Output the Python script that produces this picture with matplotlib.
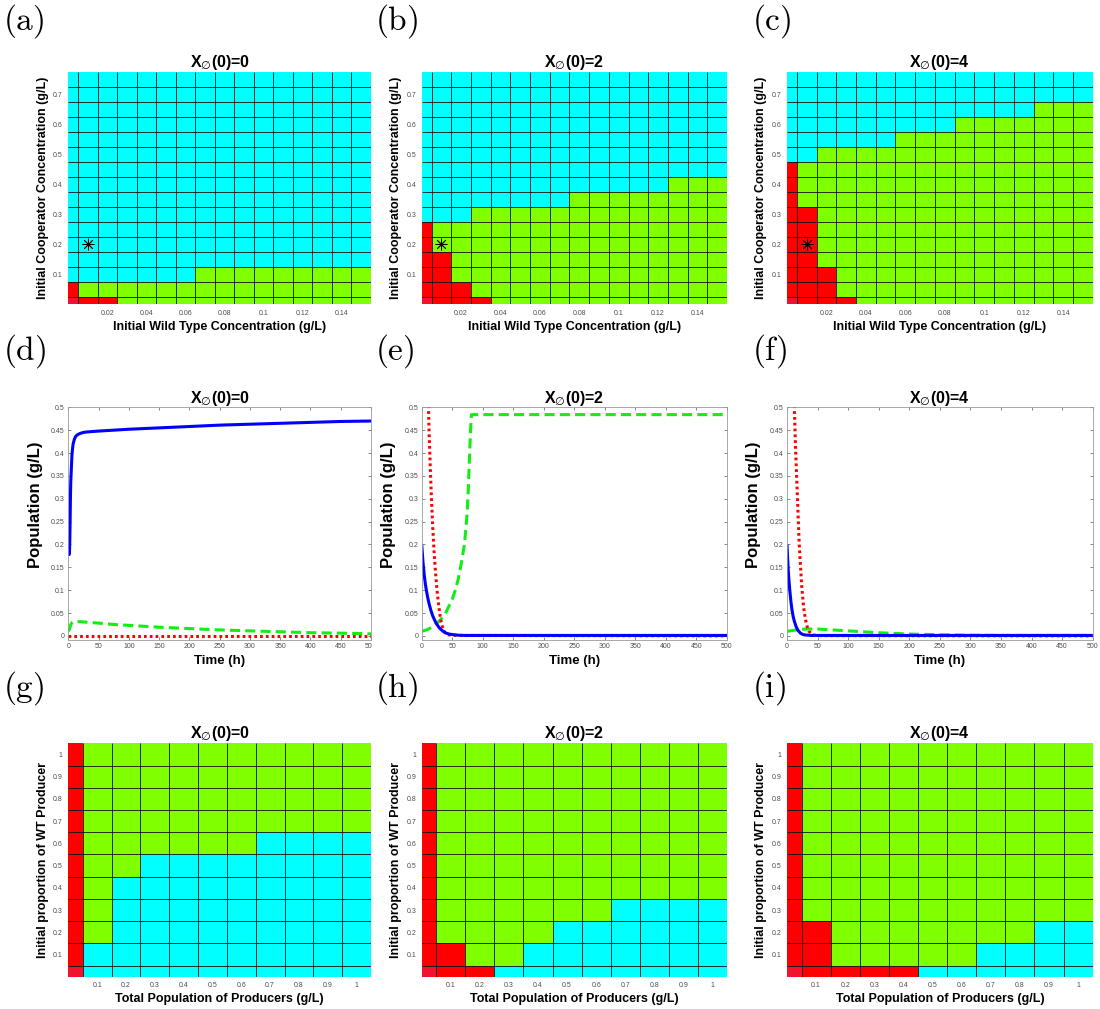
import numpy as np
import matplotlib.pyplot as plt
from matplotlib.colors import ListedColormap, BoundaryNorm
from matplotlib.transforms import Bbox, TransformedBbox

plt.rcParams['font.family'] = ['Liberation Sans', 'DejaVu Sans']

# outcome codes: 0 = origin cell, 1 = extinction (red), 2 = WT wins (green), 3 = cooperator wins (cyan)
region_cmap = ListedColormap(['#f2122e', '#ff0000', '#80ff00', '#00ffff'])
region_norm = BoundaryNorm([-0.5, 0.5, 1.5, 2.5, 3.5], 4)

# ---- top row: initial wild type vs initial cooperator ----
wt_conc = [0.00, 0.01, 0.02, 0.03, 0.04, 0.05, 0.06, 0.07,
           0.08, 0.09, 0.10, 0.11, 0.12, 0.13, 0.14, 0.15]
coop_conc = [0.00, 0.05, 0.10, 0.15, 0.20, 0.25, 0.30, 0.35,
             0.40, 0.45, 0.50, 0.55, 0.60, 0.65, 0.70, 0.75]
wt_ticks = [0.02, 0.04, 0.06, 0.08, 0.1, 0.12, 0.14]
coop_ticks = [0.1, 0.2, 0.3, 0.4, 0.5, 0.6, 0.7]

# rows listed from the top (coop = 0.75) down to coop = 0
grid_a = ["3333333333333333"] * 13 + [
    "3333333222222222",
    "1222222222222222",
    "0112222222222222",
]
grid_b = ["3333333333333333"] * 7 + [
    "3333333333333222",
    "3333333322222222",
    "3332222222222222",
    "1222222222222222",
    "1222222222222222",
    "1122222222222222",
    "1122222222222222",
    "1112222222222222",
    "0111222222222222",
]
grid_c = [
    "3333333333333333",
    "3333333333333333",
    "3333333333333222",
    "3333333332222222",
    "3333332222222222",
    "3322222222222222",
    "1222222222222222",
    "1222222222222222",
    "1222222222222222",
    "1122222222222222",
    "1122222222222222",
    "1122222222222222",
    "1122222222222222",
    "1112222222222222",
    "1112222222222222",
    "0111222222222222",
]
star_wt, star_coop = 0.01, 0.2

# ---- bottom row: total producers vs WT proportion ----
total_prod = [0.0, 0.1, 0.2, 0.3, 0.4, 0.5, 0.6, 0.7, 0.8, 0.9, 1.0]
wt_frac = [0.0, 0.1, 0.2, 0.3, 0.4, 0.5, 0.6, 0.7, 0.8, 0.9, 1.0]
prod_ticks = [0.1, 0.2, 0.3, 0.4, 0.5, 0.6, 0.7, 0.8, 0.9, 1]

grid_g = ["12222222222"] * 4 + [
    "12222223333",
    "12233333333",
    "12333333333",
    "12333333333",
    "12333333333",
    "13333333333",
    "03333333333",
]
grid_h = ["12222222222"] * 7 + [
    "12222223333",
    "12222333333",
    "11223333333",
    "01133333333",
]
grid_i = ["12222222222"] * 8 + [
    "11222222233",
    "11222223333",
    "01111333333",
]

# ---- middle row: time courses (blue = cooperator, green = WT, red = X_empty) ----
t_ticks = [0, 50, 100, 150, 200, 250, 300, 350, 400, 450, 500]
pop_ticks = [0, 0.05, 0.1, 0.15, 0.2, 0.25, 0.3, 0.35, 0.4, 0.45, 0.5]

blue_d_t = [0, 0.5, 1, 1.5, 2, 2.5, 3, 3.5, 4, 5, 6, 7, 8, 10, 12, 15, 20, 25,
            30, 40, 50, 75, 100, 150, 200, 250, 300, 350, 400, 450, 500]
blue_d = [0.200, 0.188, 0.180, 0.178, 0.185, 0.21, 0.25, 0.30, 0.335, 0.365,
          0.395, 0.41, 0.42, 0.43, 0.436, 0.44, 0.443, 0.445, 0.446, 0.447,
          0.448, 0.450, 0.452, 0.455, 0.458, 0.461, 0.463, 0.465, 0.467,
          0.469, 0.470]
green_d_t = [0, 2, 4, 6, 8, 10, 15, 20, 30, 50, 75, 100, 150, 200, 250, 300,
             350, 400, 450, 500]
green_d = [0.010, 0.015, 0.024, 0.029, 0.031, 0.031, 0.031, 0.031, 0.030,
           0.028, 0.025, 0.023, 0.019, 0.016, 0.013, 0.011, 0.009, 0.007,
           0.006, 0.0045]
red_d_t = [0, 500]
red_d = [0.0, 0.0]

blue_e_t = [0, 2, 4, 6, 8, 10, 12, 15, 18, 21, 24, 27, 30, 35, 40, 45, 50,
            60, 70, 500]
blue_e = [0.200, 0.163, 0.135, 0.113, 0.097, 0.083, 0.071, 0.056, 0.044,
          0.035, 0.027, 0.021, 0.016, 0.010, 0.006, 0.004, 0.003, 0.0015,
          0.001, 0.001]
green_e_t = [0, 10, 20, 30, 40, 50, 55, 60, 65, 70, 72, 74, 76, 78, 80, 81.5,
             500]
green_e = [0.010, 0.014, 0.022, 0.034, 0.052, 0.080, 0.100, 0.125, 0.16,
           0.20, 0.23, 0.26, 0.31, 0.38, 0.45, 0.484, 0.484]
red_e_t = [0, 5, 8, 10, 12, 14, 16, 18, 20, 22, 25, 28, 30, 32, 35, 38, 42,
           50, 500]
red_e = [2.0, 1.05, 0.72, 0.56, 0.45, 0.37, 0.30, 0.24, 0.19, 0.15, 0.10,
         0.065, 0.045, 0.03, 0.015, 0.007, 0.003, 0.001, 0.0]

blue_f_t = [0, 1, 2, 3, 4, 6, 8, 10, 12, 15, 18, 22, 26, 30, 40, 500]
blue_f = [0.200, 0.170, 0.145, 0.125, 0.108, 0.080, 0.058, 0.043, 0.032,
          0.020, 0.012, 0.006, 0.003, 0.002, 0.001, 0.001]
green_f_t = [0, 10, 20, 30, 40, 50, 75, 100, 125, 150, 175, 200, 250, 300,
             350, 500]
green_f = [0.010, 0.012, 0.014, 0.0148, 0.015, 0.015, 0.013, 0.011, 0.009,
           0.007, 0.0055, 0.004, 0.0025, 0.0015, 0.001, 0.001]
red_f_t = [0, 5, 8, 10, 12, 14, 16, 18, 20, 22, 24, 27, 30, 33, 36, 40, 45,
           55, 500]
red_f = [4.0, 1.9, 1.05, 0.72, 0.5, 0.41, 0.34, 0.27, 0.20, 0.155, 0.11,
         0.065, 0.037, 0.02, 0.01, 0.004, 0.0015, 0.0005, 0.0]

titles = [r'X$_{\emptyset}$(0)=0', r'X$_{\emptyset}$(0)=2', r'X$_{\emptyset}$(0)=4']
tick_grey = '#4d4d4d'

W, H = 1100, 1009
fig = plt.figure(figsize=(W / 100, H / 100), dpi=100)

col_px = [(68.3, 371.0), (421.7, 727.0), (787.0, 1092.7)]
row_px = [(71.7, 304.3), (407.3, 640.0), (743.3, 976.7)]


def make_ax(r, c):
    x0, x1 = col_px[c]
    y0, y1 = row_px[r]
    return fig.add_axes([x0 / W, 1 - y1 / H, (x1 - x0) / W, (y1 - y0) / H])


def cell_edges(centers):
    centers = np.asarray(centers, dtype=float)
    mids = (centers[:-1] + centers[1:]) / 2
    return np.concatenate([[centers[0]], mids, [centers[-1] + (centers[-1] - centers[-2]) / 2]])


def draw_regions(ax, xc, yc, rows, xticks, yticks, xlabel, ylabel, title):
    grid = np.array([[int(ch) for ch in r] for r in rows[::-1]])
    xe, ye = cell_edges(xc), cell_edges(yc)
    ax.pcolormesh(xe, ye, grid, cmap=region_cmap, norm=region_norm)
    ax.vlines(xe[1:-1], ye[0], ye[-1], colors='#111111', lw=0.6)
    ax.hlines(ye[1:-1], xe[0], xe[-1], colors='#111111', lw=0.6)
    ax.set_xlim(xe[0], xe[-1])
    ax.set_ylim(ye[0], ye[-1])
    ax.set_xticks(xticks)
    ax.set_xticklabels(['%g' % v for v in xticks])
    ax.set_yticks(yticks)
    ax.set_yticklabels(['%g' % v for v in yticks])
    ax.tick_params(length=0, labelsize=5, labelcolor=tick_grey, pad=4)
    for s in ax.spines.values():
        s.set_visible(False)
    ax.set_xlabel(xlabel, fontsize=9, fontweight='bold', labelpad=3)
    ax.set_ylabel(ylabel, fontsize=9, fontweight='bold', labelpad=3)
    ax.set_title(title, fontsize=11.5, fontweight='bold', pad=3)


def draw_course(ax, blue, green, red, title):
    ax.plot(green[0], green[1], color='#11ee11', lw=2.2, dashes=(3.3, 1.7))
    ax.plot(red[0], red[1], color='#ff0000', lw=2.2, linestyle=(0, (0.9, 1.0)))
    ax.plot(blue[0], blue[1], color='#0000ff', lw=2.2, solid_capstyle='butt')
    ax.set_xlim(0, 500)
    ax.set_ylim(-0.009, 0.5)
    ax.set_xticks(t_ticks)
    ax.set_xticklabels(['%g' % v for v in t_ticks])
    ax.set_yticks(pop_ticks)
    ax.set_yticklabels(['%g' % v for v in pop_ticks])
    ax.tick_params(direction='in', top=True, right=True, length=2.5, width=0.5,
                   color='#555555', labelsize=5, labelcolor=tick_grey, pad=2.5)
    for s in ax.spines.values():
        s.set_color('#9a9a9a')
        s.set_linewidth(0.6)
    ax.set_xlabel('Time (h)', fontsize=9.5, fontweight='bold', labelpad=3)
    ax.set_ylabel('Population (g/L)', fontsize=12, fontweight='bold')
    ax.yaxis.set_label_coords(-0.084, 0.58)
    ax.set_title(title, fontsize=11.5, fontweight='bold', pad=3)


top_grids = [grid_a, grid_b, grid_c]
for c in range(3):
    ax = make_ax(0, c)
    draw_regions(ax, wt_conc, coop_conc, top_grids[c], wt_ticks, coop_ticks,
                 'Initial Wild Type Concentration (g/L)',
                 'Initial Cooperator Concentration (g/L)', titles[c])
    ax.plot([star_wt], [star_coop], marker=(8, 2, 0), color='k', ms=8.5, mew=0.6)
    ax.plot([star_wt], [star_coop], marker='o', color='k', ms=1.6)

courses = [
    ((blue_d_t, blue_d), (green_d_t, green_d), (red_d_t, red_d)),
    ((blue_e_t, blue_e), (green_e_t, green_e), (red_e_t, red_e)),
    ((blue_f_t, blue_f), (green_f_t, green_f), (red_f_t, red_f)),
]
for c in range(3):
    ax = make_ax(1, c)
    draw_course(ax, *courses[c], titles[c])
    if c == 0:
        # the left time-course panel is cut off at its right border
        clip = TransformedBbox(Bbox.from_extents(0, 0, 371.5 / W, 1), fig.transFigure)
        for tick in ax.xaxis.get_major_ticks():
            tick.label1.set_clip_box(clip)
            tick.label1.set_clip_on(True)

bottom_grids = [grid_g, grid_h, grid_i]
for c in range(3):
    ax = make_ax(2, c)
    draw_regions(ax, total_prod, wt_frac, bottom_grids[c], prod_ticks, prod_ticks,
                 'Total Population of Producers (g/L)',
                 'Initial proportion of WT Producer', titles[c])

# panel letters
letters = 'abcdefghi'
letter_x = [3, 375, 752]
letter_y = [21, 351, 688]
for r in range(3):
    for c in range(3):
        fig.text(letter_x[c] / W, 1 - letter_y[r] / H,
                 r'$\mathrm{(%s)}$' % letters[3 * r + c], math_fontfamily='cm',
                 fontsize=24, ha='left', va='center')

fig.savefig('out.png', dpi=100)
